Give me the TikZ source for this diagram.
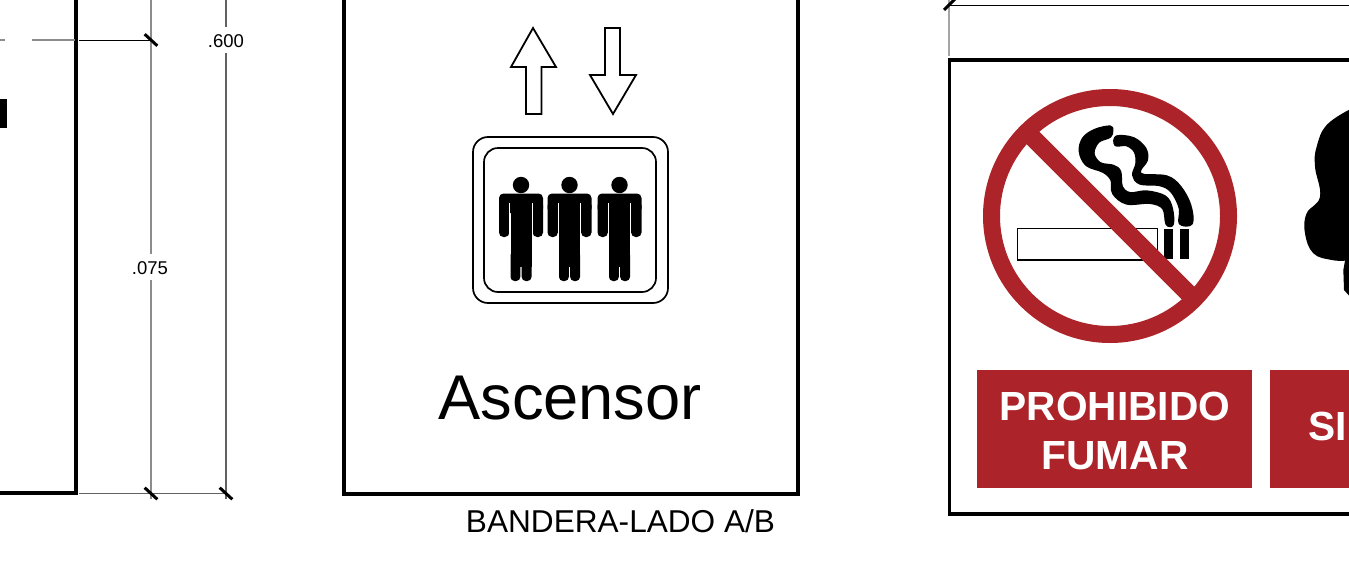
\documentclass[tikz,border=0pt]{standalone}
\usepackage{fontspec}
\setmainfont{Liberation Sans}
\definecolor{signred}{HTML}{AC2429}
\tikzset{
  x=1pt,y=-1pt,
  frameline/.style={line width=4.4pt,draw=black,line cap=butt,line join=miter},
  dimgray/.style={line width=1.4pt,draw=black!45},
  dimdark/.style={line width=1.1pt,draw=black!62},
  dimblack/.style={line width=0.9pt,draw=black},
  tickmark/.style={line width=3pt,draw=black},
  symline/.style={line width=1.8pt,draw=black,fill=white,line join=miter},
  dimtext/.style={font=\fontsize{18.5}{20}\selectfont,anchor=base,fill=white,inner xsep=1pt,inner ysep=0pt,text height=20pt,text depth=6pt},
  labeltext/.style={font=\bfseries\fontsize{40.7}{44}\selectfont,text=white,anchor=base,inner sep=0pt},
  redbox/.style={fill=signred,draw=none},
  person/.pic={
    \fill (0,-96) circle (8.2);
    \fill[rounded corners=4.5pt] (-22,-87.5) rectangle (22,-68);
    \fill[rounded corners=4.5pt] (-22,-80) rectangle (-11.6,-44);
    \fill[rounded corners=4.5pt] (11.6,-80) rectangle (22,-44);
    \fill (-10.5,-87.5) rectangle (10.5,-14);
    \fill[rounded corners=4pt] (-10.5,-30) rectangle (-0.7,0);
    \fill[rounded corners=4pt] (0.7,-30) rectangle (10.5,0);
    \draw[white,line width=0.8pt] (-11.3,-78) -- (-11.3,-44);
    \draw[white,line width=0.8pt] (11.3,-78) -- (11.3,-44);
  }
}
\begin{document}
\begin{tikzpicture}
\useasboundingbox (0,0) rectangle (1349,573);
\fill[white] (0,0) rectangle (1349,573);

% --- left drawing and its dimensions ---
\coordinate (leftTop) at (75.7,-4);
\coordinate (leftCorner) at (75.7,493);
\coordinate (leftEnd) at (-4,493);
\draw[frameline] (leftTop) -- (leftCorner) -- (leftEnd);
\fill (0,99) rectangle (6.5,128);

\coordinate (dimATop) at (151,-2);
\coordinate (dimABot) at (151,499);
\coordinate (dimBTop) at (226,-2);
\coordinate (dimBBot) at (226,499);
\draw[dimgray] (dimATop) -- (dimABot);
\draw[dimdark] (dimBTop) -- (dimBBot);
\node[dimtext] (lblA) at (150,274) {.075};
\node[dimtext] (lblB) at (226,47) {.600};

\coordinate (guideA) at (-2,40);
\coordinate (guideB) at (5,40);
\coordinate (guideC) at (32,40);
\coordinate (guideD) at (75,40);
\coordinate (guideE) at (79,40);
\coordinate (tickTop) at (151,40);
\draw[dimgray] (guideA) -- (guideB);
\draw[dimgray] (guideC) -- (guideD);
\draw[dimblack] (guideE) -- (tickTop);
\coordinate (baseL) at (79,493.5);
\coordinate (tickBotA) at (151,493.5);
\coordinate (tickBotB) at (226,493.5);
\draw[dimdark] (baseL) -- (tickBotA) -- (tickBotB);
\foreach \p in {tickTop,tickBotA,tickBotB}
  \draw[tickmark] ([shift={(-6.3,-5.8)}]\p) -- ([shift={(6.3,5.8)}]\p);

% --- middle sign ---
\coordinate (mTL) at (344,-4);
\coordinate (mBL) at (344,494);
\coordinate (mBR) at (798,494);
\coordinate (mTR) at (798,-4);
\draw[frameline] (mTL) -- (mBL) -- (mBR) -- (mTR);

\draw[symline] (533,28) -- (556,67) -- (541.5,67) -- (541.5,114) -- (526,114) -- (526,67) -- (511,67) -- cycle;
\draw[symline] (605,28) -- (620,28) -- (620,75) -- (636,75) -- (613,114) -- (590,75) -- (605,75) -- cycle;

\draw[line width=1.7pt,rounded corners=15pt] (473,137) rectangle (668,303);
\draw[line width=1.7pt,rounded corners=14pt] (484,148) rectangle (656,292);

\pic at (521,281) {person};
\pic at (569.5,281) {person};
\pic at (619.5,281) {person};

\node[font=\fontsize{63.2}{70}\selectfont,anchor=base,inner sep=0pt] (ascensor) at (570,419.5) {Ascensor};
\node[font=\fontsize{31.6}{34}\selectfont,anchor=base,inner sep=0pt] (bandera) at (620.5,532) {BANDERA-LADO A/B};

% --- right sign ---
\coordinate (rTL) at (949.5,60);
\coordinate (rBL) at (949.5,514);
\coordinate (rBR) at (1353,514);
\coordinate (rTR) at (1353,60);
\draw[line width=3.6pt,line join=miter] (rTR) -- (rTL) -- (rBL) -- (rBR);
\coordinate (dimCBot) at (949,56);
\coordinate (dimCTop) at (949,-2);
\draw[line width=1.3pt,draw=black!35] (dimCBot) -- (dimCTop);
\coordinate (tickC) at (949,5);
\coordinate (dimCEnd) at (1353,5);
\draw[dimblack] (tickC) -- (dimCEnd);
\draw[tickmark] ([shift={(-5,5)}]tickC) -- ([shift={(6,-6)}]tickC);

% no-smoking symbol (outlines in 3x crop units)
\begin{scope}[shift={(970,80)},scale=1/3]
  \draw[line width=1.5pt,fill=white] (142,445) rectangle (562,540);
  \fill (582,446) rectangle (610,538);
  \fill (630,446) rectangle (657,538);
  \filldraw[line width=2.6pt,line join=round] plot[smooth cycle,tension=0.6] coordinates {
    (420,140) (375,150) (340,175) (330,215) (350,255) (400,275) (425,300) (430,340)
    (470,370) (540,368) (580,385) (590,432) (608,432) (605,385) (585,350) (530,335)
    (480,340) (455,320) (450,275) (430,258) (390,250) (370,220) (385,185) (420,170) (426,152)};
  \filldraw[line width=2.6pt,line join=round] plot[smooth cycle,tension=0.6] coordinates {
    (440,170) (490,175) (525,205) (530,240) (510,270) (520,285) (590,290) (630,320)
    (660,375) (665,430) (630,430) (630,385) (605,335) (570,315) (510,310) (490,285)
    (500,250) (495,215) (470,195) (437,195)};
\end{scope}
\draw[signred,line width=18pt,line cap=butt] (1031.5,136.5) -- (1190,295);
\draw[signred,line width=17pt] (1110,216) circle (118.5);

% black silhouette at the right edge (clipped by the page)
\begin{scope}[shift={(1260,90)},scale=1/3]
  \fill plot[smooth,tension=0.7] coordinates {
    (270,58) (200,105) (170,170) (165,230) (180,320) (140,370) (135,430) (160,490) (215,510) (255,512)}
    -- (250,540) -- (252,600) -- (270,620) -- cycle;
\end{scope}

% red labels
\fill[redbox] (977,370) rectangle (1252,488);
\fill[redbox] (1269.5,370) rectangle (1349,488);
\node[labeltext] (prohibido) at (1115,420) {PROHIBIDO};
\node[labeltext] (fumar) at (1115,469) {FUMAR};
\node[labeltext,anchor=base west] (si) at (1308,440) {SI};
\end{tikzpicture}
\end{document}
